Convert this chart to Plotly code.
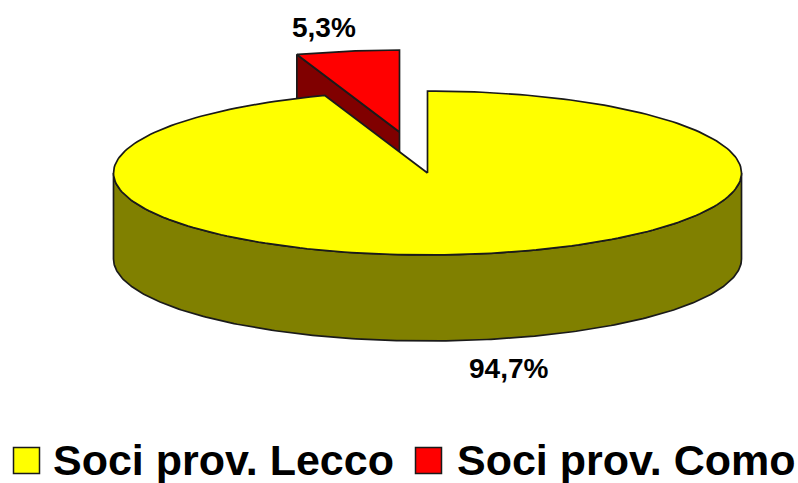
import numpy as np
import plotly.graph_objects as go

# values
categories = ["Soci prov. Lecco", "Soci prov. Como"]
shares = [94.7, 5.3]
share_labels = ["94,7%", "5,3%"]

top_colors = ["#FFFF00", "#FF0000"]
side_colors = ["#808000", "#800000"]
edge = "#1a1a1a"
font_name = "Liberation Sans"

W, H = 798, 483
cx, cy = 427.5, 173   # centre of the pie top
rx, ry = 314, 82
depth = 86
explode = (-28, -41)  # offset of the pulled out slice


def rim(a0, a1, ox=0, oy=0, dz=0, n=240):
    # clockwise angle from 12 o'clock, in degrees
    t = np.radians(np.linspace(a0, a1, n))
    return cx + ox + rx * np.sin(t), cy + oy + dz - ry * np.cos(t)


def poly(fig, x, y, color):
    fig.add_trace(go.Scatter(
        x=list(x), y=list(y), mode="lines", fill="toself", fillcolor=color,
        line=dict(color=edge, width=1.7), hoverinfo="skip", showlegend=False
    ))


split = shares[0] / sum(shares) * 360

fig = go.Figure()

# pulled out slice goes first, the big one covers its lower part
ox, oy = explode
ax, ay = cx + ox, cy + oy
ex, ey = rim(split, 360, ox, oy)
poly(fig, [ax, ex[0], ex[0], ax, ax], [ay, ey[0], ey[0] + depth, ay + depth, ay], side_colors[1])
poly(fig, np.r_[ax, ex, ax], np.r_[ay, ey, ay], top_colors[1])

# big slice: front wall and top
fx, fy = rim(90, 270)
bx, by = rim(270, 90, dz=depth)
poly(fig, np.r_[fx, bx, fx[0]], np.r_[fy, by, fy[0]], side_colors[0])
tx, ty = rim(0, split)
poly(fig, np.r_[cx, tx, cx], np.r_[cy, ty, cy], top_colors[0])

# legend swatches
for xpos, color in zip([26.5, 428.5], top_colors):
    fig.add_trace(go.Scatter(
        x=[xpos], y=[460.5], mode="markers", hoverinfo="skip", showlegend=False,
        marker=dict(symbol="square", size=26, color=color, line=dict(color=edge, width=1.5))
    ))

for text, xpos, ypos in zip(share_labels, [508, 324], [368, 27]):
    fig.add_annotation(
        x=xpos, y=ypos, text=f"<b>{text}</b>", showarrow=False,
        font=dict(family=font_name, size=28, color="#000000")
    )

for text, xpos in zip(categories, [51, 455]):
    fig.add_annotation(
        x=xpos, y=460, text=f"<b>{text}</b>", showarrow=False, xanchor="left",
        font=dict(family=font_name, size=43, color="#000000")
    )

fig.update_layout(
    width=W, height=H,
    margin=dict(l=0, r=0, t=0, b=0),
    paper_bgcolor="white", plot_bgcolor="white",
    showlegend=False,
    xaxis=dict(range=[0, W], visible=False, fixedrange=True),
    yaxis=dict(range=[H, 0], visible=False, fixedrange=True),
)

# page margin would push the figure out of the window
fig.write_html(
    "out.html", config=dict(displayModeBar=False),
    post_script="document.body.style.margin='0';document.body.style.overflow='hidden';"
)
